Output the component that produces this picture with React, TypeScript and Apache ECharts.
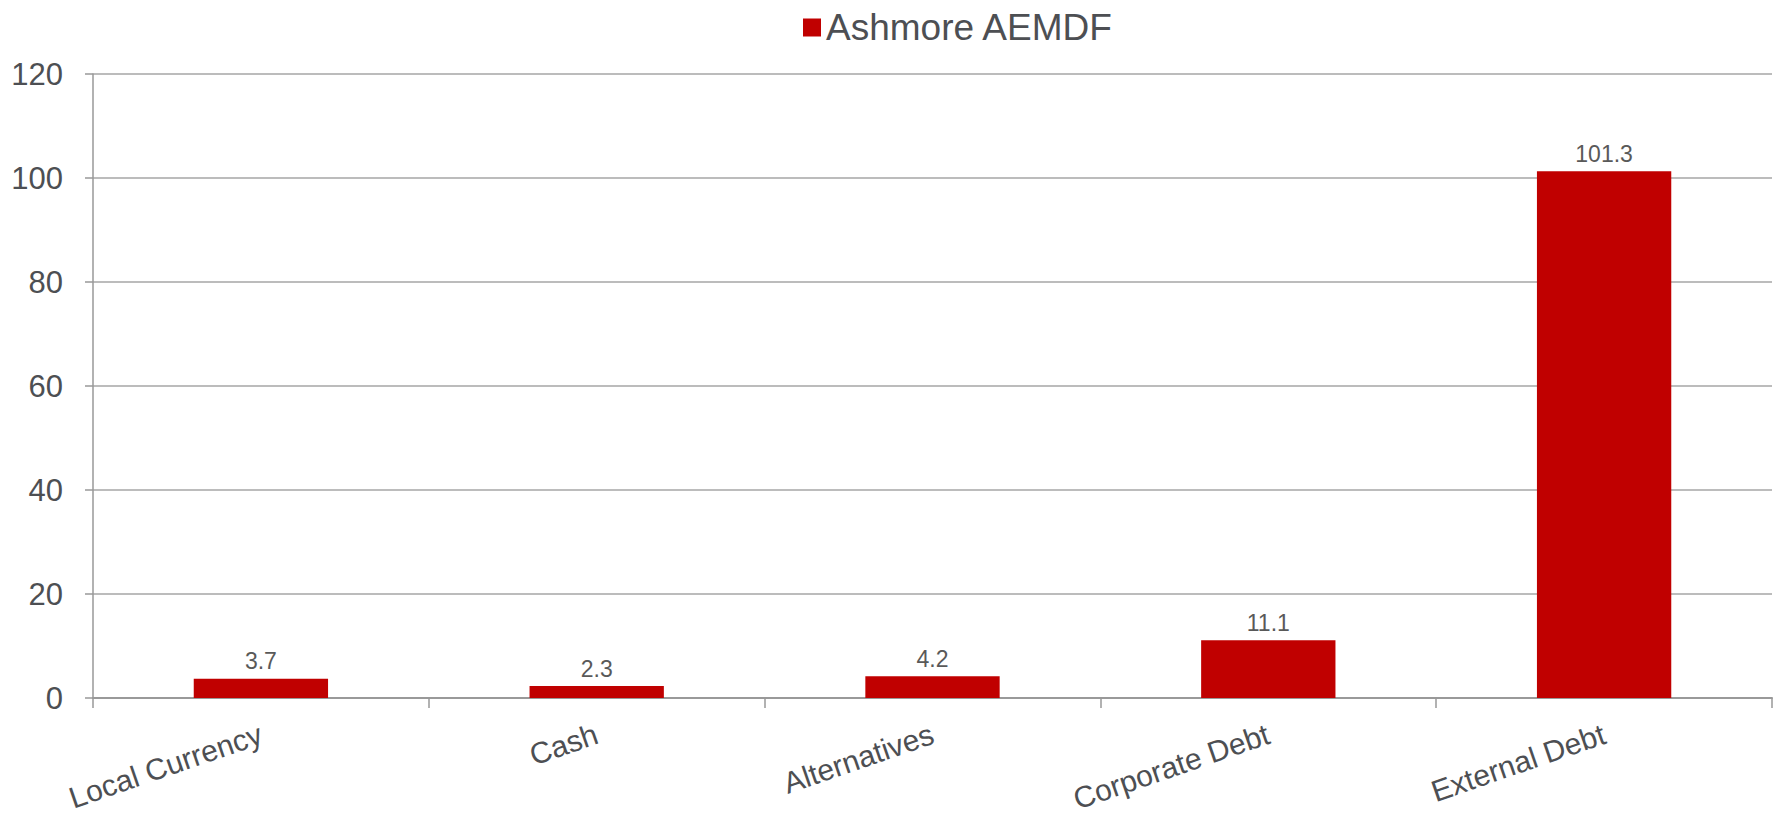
import React, { useEffect, useRef } from "react";
import * as echarts from "echarts";

const categories = ["Local Currency", "Cash", "Alternatives", "Corporate Debt", "External Debt"];
const values = [3.7, 2.3, 4.2, 11.1, 101.3];
const seriesName = "Ashmore AEMDF";
const yTicks = { min: 0, max: 120, interval: 20 };

export default function App() {
  const ref = useRef<HTMLDivElement>(null);
  useEffect(() => {
    if (!ref.current) return;
    const chart = echarts.init(ref.current, undefined, { renderer: "svg" });
    const textColor = "#4D4F53";
    chart.setOption({
      animation: false,
      textStyle: { fontFamily: "Liberation Sans, Arial, sans-serif" },
      legend: {
        data: [seriesName],
        left: 798,
        top: 4,
        itemWidth: 18,
        itemHeight: 18,
        itemGap: 6,
        icon: "rect",
        textStyle: { fontSize: 37, color: textColor, fontFamily: "Liberation Sans, Arial, sans-serif" },
      },
      grid: { left: 93, right: 3, top: 74, bottom: 119, containLabel: false, outerBoundsMode: "none" },
      xAxis: {
        type: "category",
        data: categories,
        axisLine: { lineStyle: { color: "#999999", width: 2 } },
        axisTick: { show: true, length: 10, lineStyle: { color: "#999999", width: 1.5 } },
        axisLabel: {
          rotate: 19,
          margin: 35,
          fontSize: 30,
          color: textColor,
          fontFamily: "Liberation Sans, Arial, sans-serif",
          interval: 0,
        },
      },
      yAxis: {
        type: "value",
        min: yTicks.min,
        max: yTicks.max,
        interval: yTicks.interval,
        axisLine: { show: true, lineStyle: { color: "#999999", width: 1.5 } },
        axisTick: { show: true, length: 8, lineStyle: { color: "#999999", width: 1.5 } },
        splitLine: { show: true, lineStyle: { color: "#A6A6A6", width: 1.5 } },
        axisLabel: {
          margin: 30,
          fontSize: 31,
          color: textColor,
          fontFamily: "Liberation Sans, Arial, sans-serif",
        },
      },
      series: [
        {
          name: seriesName,
          type: "bar",
          data: values,
          barWidth: "40%",
          itemStyle: { color: "#C00000" },
          label: {
            show: true,
            position: "top",
            distance: 6,
            fontSize: 23,
            color: "#595959",
            fontFamily: "Liberation Sans, Arial, sans-serif",
          },
        },
      ],
    });
    return () => chart.dispose();
  }, []);
  return (
    <div
      ref={ref}
      style={{ position: "fixed", left: 0, top: 0, width: 1775, height: 817, background: "#fff" }}
    />
  );
}
